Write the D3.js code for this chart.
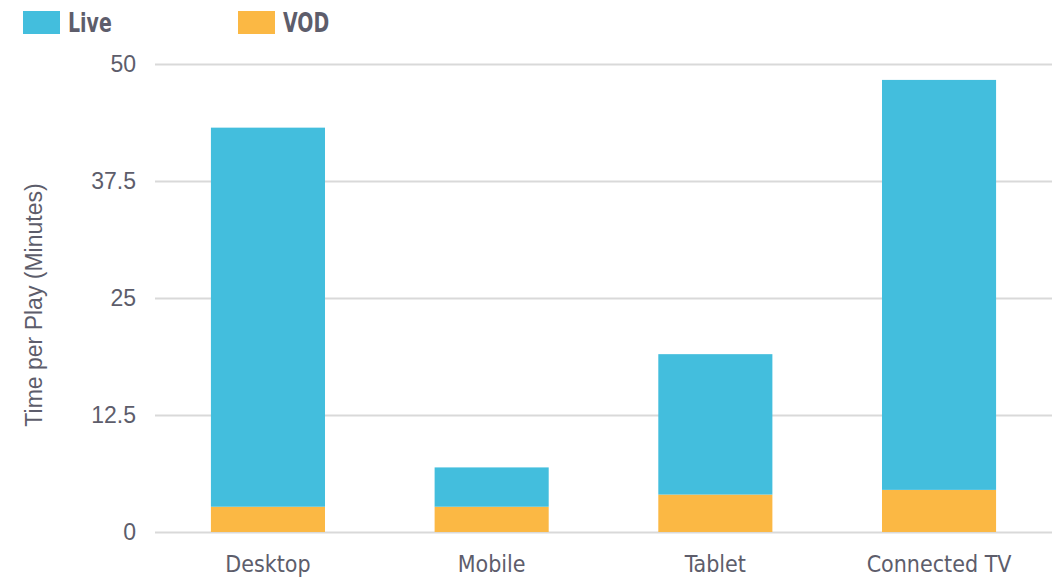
<!DOCTYPE html>
<html>
<head>
<meta charset="utf-8">
<script src="https://cdn.jsdelivr.net/npm/d3@7"></script>
<style>
	body { margin: 0; background: #fff; }
	svg { display: block; }
</style>
</head>
<body>
<div id="chart"></div>
<script>
const categories = ['Desktop', 'Mobile', 'Tablet', 'Connected TV'];
const liveValues = [40.5, 4.2, 15.0, 43.8];
const vodValues = [2.7, 2.7, 4.0, 4.5];
const yTicks = [0, 12.5, 25, 37.5, 50];
const seriesNames = ['VOD', 'Live'];
const seriesColors = {Live: '#43bedd', VOD: '#fbb844'};

const WIDTH = 1064;
const HEIGHT = 579;
const MARGIN = {top: 64, right: 12, bottom: 47, left: 155};
const NARROW = '"Liberation Sans Narrow", "DejaVu Sans Condensed", sans-serif';
const TEXT_COLOR = '#5d5d6b';

const width = WIDTH - MARGIN.left - MARGIN.right;
const height = HEIGHT - MARGIN.top - MARGIN.bottom;

const svg = d3.select('#chart').append('svg')
				.attr('width', WIDTH)
				.attr('height', HEIGHT);

const g = svg.append('g')
				.attr('transform', `translate(${MARGIN.left}, ${MARGIN.top})`);

// build rows for the stack
const rows = categories.map((c, i) => ({category: c, Live: liveValues[i], VOD: vodValues[i]}));
const stacked = d3.stack().keys(seriesNames)(rows);

const xScale = d3.scaleBand()
				.domain(categories)
				.range([0, width])
				.paddingInner(0.49)
				.paddingOuter(0.25);

const yScale = d3.scaleLinear()
				.domain([0, 50])
				.range([height, 0]);

// gridlines + y labels
const yAxis = d3.axisLeft(yScale)
				.tickValues(yTicks)
				.tickSize(-width)
				.tickPadding(19)
				.tickFormat(d => d);

g.append('g')
	.attr('class', 'y axis')
	.call(yAxis)
	.call(a => a.select('.domain').remove())
	.call(a => a.selectAll('line').attr('stroke', '#d9d9d9').attr('stroke-width', 2))
	.call(a => a.selectAll('text')
		.attr('fill', TEXT_COLOR)
		.style('font-family', '"Liberation Sans", Arial, sans-serif')
		.style('font-size', '23px'));

// bars
g.selectAll('.series')
	.data(stacked)
	.join('g')
	.attr('class', 'series')
	.attr('fill', d => seriesColors[d.key])
	.selectAll('rect')
	.data(d => d)
	.join('rect')
	.attr('x', d => xScale(d.data.category))
	.attr('width', xScale.bandwidth())
	.attr('y', d => yScale(d[1]))
	.attr('height', d => yScale(d[0]) - yScale(d[1]));

// x labels
const xAxis = d3.axisBottom(xScale).tickSize(0).tickPadding(24);
g.append('g')
	.attr('class', 'x axis')
	.attr('transform', `translate(0, ${height})`)
	.call(xAxis)
	.call(a => a.select('.domain').remove())
	.call(a => a.selectAll('text')
		.attr('fill', TEXT_COLOR)
		.style('font-family', NARROW)
		.style('font-size', '23px'));

// y title
svg.append('text')
	.attr('transform', `translate(42, 305) rotate(-90)`)
	.attr('text-anchor', 'middle')
	.attr('fill', TEXT_COLOR)
	.style('font-family', '"Liberation Sans", Arial, sans-serif')
	.style('font-size', '23px')
	.text('Time per Play (Minutes)');

// legend
const legendItems = [{name: 'Live', x: 23}, {name: 'VOD', x: 238}];
const legend = svg.selectAll('.legend')
				.data(legendItems)
				.join('g')
				.attr('class', 'legend')
				.attr('transform', d => `translate(${d.x}, 11)`);

legend.append('rect')
	.attr('width', 37)
	.attr('height', 23)
	.attr('fill', d => seriesColors[d.name]);

legend.append('text')
	.attr('transform', 'translate(45, 21) scale(0.78, 1)')
	.attr('fill', TEXT_COLOR)
	.style('font-family', NARROW)
	.style('font-weight', 'bold')
	.style('font-size', '27px')
	.text(d => d.name);
</script>
</body>
</html>
